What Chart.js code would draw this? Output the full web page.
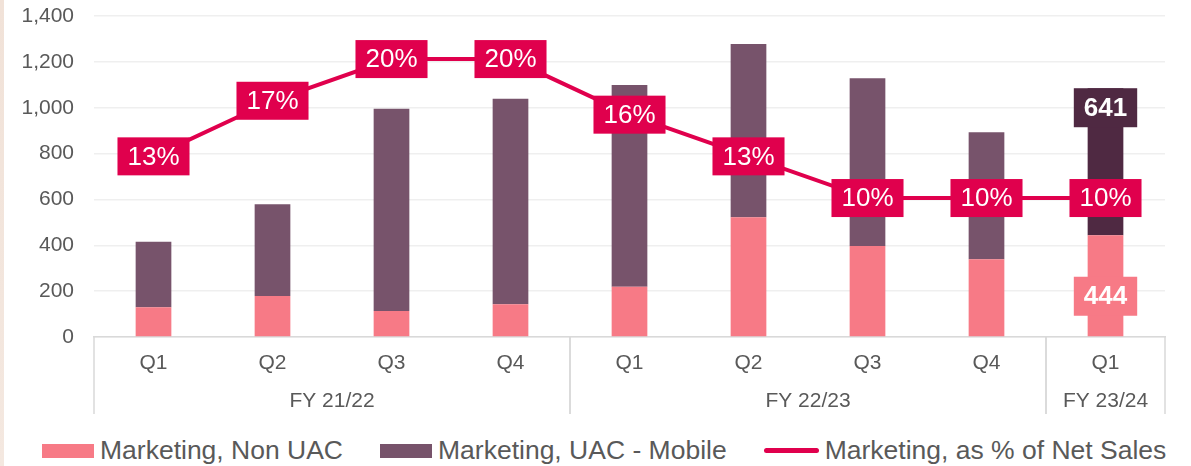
<!DOCTYPE html>
<html>
<head>
<meta charset="utf-8">
<script src="https://cdn.jsdelivr.net/npm/chart.js@4"></script>
<style>
  html, body { margin: 0; padding: 0; background: #fff; }
  body { width: 1191px; height: 466px; position: relative; overflow: hidden; font-family: "Liberation Sans", Arial, sans-serif; }
  .strip { position: absolute; left: 0; top: 0; width: 4px; height: 466px; background: linear-gradient(#f1e2d8, #f4e8e0); }
  .wrap { position: absolute; left: 0; top: 0; width: 1191px; height: 430px; }
  .legend { position: absolute; left: 42px; top: 435px; display: flex; gap: 37px; align-items: center; color: #595959; font-size: 26.5px; }
  .item { display: flex; align-items: center; gap: 6px; }
  .swatch { width: 52px; height: 14px; }
  .swatch.line { height: 5px; border-radius: 3px; width: 55px; }
</style>
</head>
<body>
<div class="strip"></div>
<div class="wrap"><canvas id="chart"></canvas></div>
<div class="legend" id="legend"></div>

<script>
// --- DATA ---
const quarters = ['Q1', 'Q2', 'Q3', 'Q4', 'Q1', 'Q2', 'Q3', 'Q4', 'Q1'];
const fiscalYears = ['FY 21/22', 'FY 22/23', 'FY 23/24'];
const groupSizes = [4, 4, 1];
const nonUac = [130, 179, 113, 143, 219, 522, 397, 339, 444];
const uacMobile = [285, 400, 883, 896, 880, 756, 731, 554, 641];
const pctOfSales = [13, 17, 20, 20, 16, 13, 10, 10, 10];
const yTicks = [0, 200, 400, 600, 800, 1000, 1200, 1400];

// --- COLORS ---
const pink = '#f77a86';
const mauve = '#77536b';
const darkMauve = '#4f2942';
const crimson = '#e0004d';
const textGrey = '#595959';
const FONT = '"Liberation Sans", Arial, sans-serif';

function drawBox(ctx, text, cx, cy, bg, bold, padX, h) {
    ctx.save();
    ctx.font = (bold ? 'bold ' : '') + '26px ' + FONT;
    const w = ctx.measureText(text).width + padX * 2;
    ctx.fillStyle = bg;
    ctx.fillRect(cx - w / 2, cy - h / 2, w, h);
    ctx.fillStyle = '#fff';
    ctx.textAlign = 'center';
    ctx.textBaseline = 'middle';
    ctx.fillText(text, cx, cy + 1);
    ctx.restore();
}

// labels on the line + the two values on the latest bar
const labelPlugin = {
    id: 'labelPlugin',
    afterDatasetsDraw(chart) {
        const ctx = chart.ctx;
        const lineMeta = chart.getDatasetMeta(2);
        lineMeta.data.forEach((pt, i) => {
            drawBox(ctx, pctOfSales[i] + '%', pt.x, pt.y, crimson, false, 10, 38);
        });
        const last = quarters.length - 1;
        const uacBar = chart.getDatasetMeta(1).data[last];
        drawBox(ctx, String(uacMobile[last]), uacBar.x, uacBar.y + 19.5, darkMauve, true, 10, 39);
        const nonBar = chart.getDatasetMeta(0).data[last];
        drawBox(ctx, String(nonUac[last]), nonBar.x, nonBar.base - 40, pink, true, 10, 39);
    }
};

// second level of the category axis: fiscal year groups
const groupPlugin = {
    id: 'groupPlugin',
    afterDraw(chart) {
        const ctx = chart.ctx;
        const x = chart.scales.x;
        const bottom = chart.chartArea.bottom;
        const half = (x.getPixelForValue(1) - x.getPixelForValue(0)) / 2;
        ctx.save();
        ctx.strokeStyle = '#d9d9d9';
        ctx.lineWidth = 1.5;
        ctx.fillStyle = textGrey;
        ctx.font = '21px ' + FONT;
        ctx.textAlign = 'center';
        ctx.textBaseline = 'middle';
        let start = 0;
        groupSizes.forEach((n, g) => {
            const left = x.getPixelForValue(start) - half;
            const right = x.getPixelForValue(start + n - 1) + half;
            [left, right].forEach(px => {
                ctx.beginPath();
                ctx.moveTo(px, bottom);
                ctx.lineTo(px, bottom + 77);
                ctx.stroke();
            });
            ctx.fillText(fiscalYears[g], (left + right) / 2, bottom + 64);
            start += n;
        });
        ctx.restore();
    }
};

const ctx = document.getElementById('chart').getContext('2d');
new Chart(ctx, {
    type: 'bar',
    data: {
        labels: quarters,
        datasets: [
            {
                label: 'Marketing, Non UAC',
                data: nonUac,
                backgroundColor: pink,
                order: 2
            },
            {
                label: 'Marketing, UAC - Mobile',
                data: uacMobile,
                backgroundColor: uacMobile.map((_, i) => i === uacMobile.length - 1 ? darkMauve : mauve),
                order: 2
            },
            {
                type: 'line',
                label: 'Marketing, as % of Net Sales',
                data: pctOfSales,
                yAxisID: 'y2',
                borderColor: crimson,
                borderWidth: 4,
                pointRadius: 0,
                tension: 0,
                order: 1
            }
        ]
    },
    options: {
        responsive: true,
        maintainAspectRatio: false,
        animation: false,
        layout: { padding: { top: 16, right: 26, left: 0, bottom: 0 } },
        datasets: { bar: { categoryPercentage: 1, barPercentage: 0.3 } },
        plugins: {
            legend: { display: false },
            tooltip: { enabled: false }
        },
        scales: {
            x: {
                stacked: true,
                grid: { display: false },
                border: { color: '#d9d9d9', width: 1.5 },
                ticks: { color: textGrey, font: { size: 21, family: FONT }, padding: 6 },
                afterFit(scale) { scale.height = 93; }
            },
            y: {
                stacked: true,
                min: 0,
                max: 1400,
                afterBuildTicks(scale) { scale.ticks = yTicks.map(v => ({ value: v })); },
                grid: { color: '#efefef', lineWidth: 1.5, drawTicks: false },
                border: { display: false },
                ticks: {
                    color: textGrey,
                    font: { size: 21, family: FONT },
                    padding: 20,
                    callback: v => v.toLocaleString('en-US')
                },
                afterFit(scale) {
                    scale.width = 94;
                    scale.paddingTop = 0;
                    scale.paddingBottom = 0;
                }
            },
            y2: {
                display: false,
                min: 0,
                max: 23.1
            }
        }
    },
    plugins: [labelPlugin, groupPlugin]
});

// --- LEGEND ---
const legendItems = [
    { text: 'Marketing, Non UAC', color: pink, line: false },
    { text: 'Marketing, UAC - Mobile', color: mauve, line: false },
    { text: 'Marketing, as % of Net Sales', color: crimson, line: true }
];
const legend = document.getElementById('legend');
legendItems.forEach(item => {
    const div = document.createElement('div');
    div.className = 'item';
    div.innerHTML = `<span class="swatch${item.line ? ' line' : ''}" style="background:${item.color}"></span><span>${item.text}</span>`;
    legend.appendChild(div);
});
</script>
</body>
</html>
